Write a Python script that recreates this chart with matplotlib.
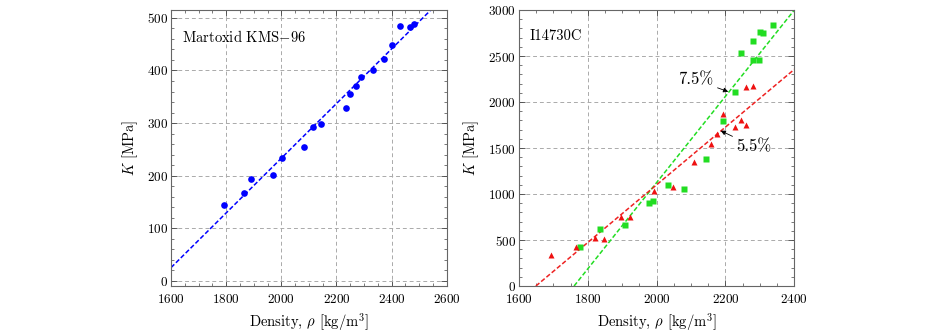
import numpy as np
import matplotlib
matplotlib.use("Agg")
import matplotlib.pyplot as plt
from matplotlib.ticker import MultipleLocator

plt.rcParams['font.family'] = 'cmr10'
plt.rcParams['mathtext.fontset'] = 'cm'
plt.rcParams['axes.formatter.use_mathtext'] = True

# Martoxid KMS-96
kms_rho = [1792, 1865, 1890, 1970, 2001, 2082, 2114, 2145, 2236, 2248,
           2272, 2290, 2332, 2374, 2403, 2430, 2466, 2480]
kms_K = [144, 166, 193, 202, 234, 255, 293, 298, 329, 355,
         371, 387, 400, 421, 448, 484, 482, 488]
kms_fit_rho = [1600, 2600]
kms_fit_K = [25, 545]

# I14730C, 7.5 %
g_rho = [1777, 1836, 1909, 1978, 1990, 2034, 2080, 2143, 2192, 2228,
         2244, 2281, 2281, 2296, 2299, 2310, 2337]
g_K = [421, 616, 660, 906, 921, 1098, 1054, 1380, 1797, 2105,
       2529, 2457, 2667, 2457, 2764, 2754, 2833]
g_fit_rho = [1760, 2400]
g_fit_K = [0, 3000]

# I14730C, 5.5 %
r_rho = [1692, 1766, 1822, 1847, 1896, 1923, 1991, 2048, 2109, 2158,
         2174, 2192, 2227, 2244, 2261, 2261, 2281]
r_K = [334, 421, 525, 514, 753, 747, 1029, 1073, 1351, 1543,
       1656, 1870, 1732, 1804, 1754, 2159, 2178]
r_fit_rho = [1649, 2400]
r_fit_K = [0, 2355]

fig = plt.figure(figsize=(9.26, 3.34), dpi=100)
ax1 = fig.add_axes([0.1847, 0.1437, 0.2977, 0.8263])
ax2 = fig.add_axes([0.5605, 0.1437, 0.2973, 0.8263])

spine_col = '#666666'
for ax in (ax1, ax2):
    ax.grid(True, ls=(0, (4, 3)), color='#aaaaaa', lw=0.7)
    ax.set_axisbelow(True)
    for s in ax.spines.values():
        s.set_color(spine_col)
        s.set_linewidth(0.8)
    ax.tick_params(which='both', direction='in', top=True, right=True,
                   color='#444444', labelsize=9.5)
    ax.tick_params(axis='y', pad=2)
    ax.tick_params(axis='x', pad=5)
    ax.tick_params(which='major', length=4, width=0.6)
    ax.tick_params(which='minor', length=2, width=0.5)
    ax.set_xlabel(r'Density, $\rho$ [kg/m$^3$]', fontsize=10.5, labelpad=4)
    ax.set_ylabel(r'$K$ [MPa]', fontsize=10.5, labelpad=5)

ax1.plot(kms_fit_rho, kms_fit_K, ls=(0, (3, 1.5)), color='#0000ff', lw=1.1)
ax1.plot(kms_rho, kms_K, 'o', color='#0000ff', ms=4.8, mec='none')
ax1.set_xlim(1600, 2600)
ax1.set_ylim(-10, 515)
ax1.xaxis.set_major_locator(MultipleLocator(200))
ax1.xaxis.set_minor_locator(MultipleLocator(50))
ax1.yaxis.set_major_locator(MultipleLocator(100))
ax1.yaxis.set_minor_locator(MultipleLocator(20))
ax1.text(0.04, 0.93, r'Martoxid KMS$-$96', transform=ax1.transAxes,
         fontsize=10.5, va='top', ha='left')

ax2.plot(g_fit_rho, g_fit_K, ls=(0, (3, 1.5)), color='#22dd22', lw=1.1)
ax2.plot(r_fit_rho, r_fit_K, ls=(0, (3, 1.5)), color='#ee2222', lw=1.1)
ax2.plot(g_rho, g_K, 's', color='#22dd22', ms=4.6, mec='none')
ax2.plot(r_rho, r_K, '^', color='#ee1111', ms=4.6, mec='none')
ax2.set_xlim(1600, 2400)
ax2.set_ylim(0, 3000)
ax2.xaxis.set_major_locator(MultipleLocator(200))
ax2.xaxis.set_minor_locator(MultipleLocator(50))
ax2.yaxis.set_major_locator(MultipleLocator(500))
ax2.yaxis.set_minor_locator(MultipleLocator(100))
ax2.text(0.04, 0.93, 'I14730C', transform=ax2.transAxes,
         fontsize=10.5, va='top', ha='left')

arrow = dict(arrowstyle='-|>', color='black', lw=0.6,
             mutation_scale=7, shrinkA=1, shrinkB=0)
ax2.annotate('7.5%', xy=(2208, 2112), xytext=(2165, 2240),
             ha='right', va='center', fontsize=12, arrowprops=arrow)
ax2.annotate('5.5%', xy=(2186, 1688), xytext=(2232, 1514),
             ha='left', va='center', fontsize=12, arrowprops=arrow)

fig.savefig('out.png', dpi=100)
